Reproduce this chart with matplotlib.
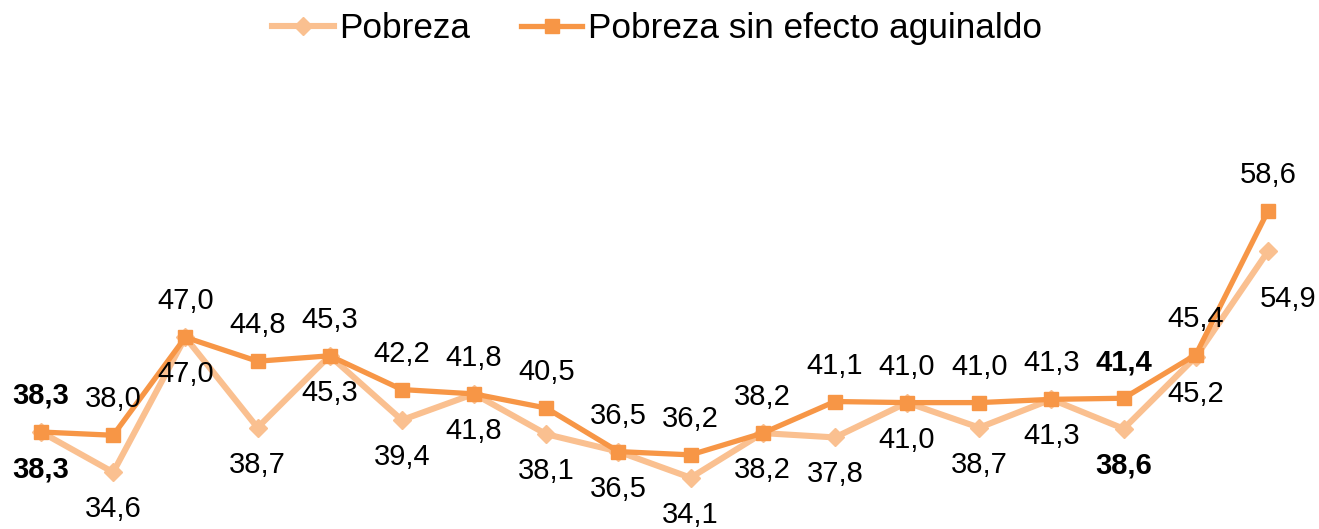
import matplotlib
matplotlib.use("Agg")
import matplotlib.pyplot as plt

plt.rcParams['font.family'] = ['Liberation Sans', 'DejaVu Sans']

pobreza = [38.3, 34.6, 47.0, 38.7, 45.3, 39.4, 41.8, 38.1, 36.5, 34.1,
           38.2, 37.8, 41.0, 38.7, 41.3, 38.6, 45.2, 54.9]
sin_aguinaldo = [38.3, 38.0, 47.0, 44.8, 45.3, 42.2, 41.8, 40.5, 36.5, 36.2,
                 38.2, 41.1, 41.0, 41.0, 41.3, 41.4, 45.4, 58.6]
bold_idx = [0, 15]
series_names = ["Pobreza", "Pobreza sin efecto aguinaldo"]

c_light = "#FAC090"
c_dark = "#F79646"

W, H, DPI = 1319, 529, 100
fig = plt.figure(figsize=(W / DPI, H / DPI), dpi=DPI)
ax = fig.add_axes([0, 0, 1, 1])
x = list(range(len(pobreza)))

ax.plot(x, pobreza, color=c_light, lw=4.4, marker="D", ms=9,
        mec=c_light, mfc=c_light, label=series_names[0], zorder=2)
ax.plot(x, sin_aguinaldo, color=c_dark, lw=3.8, marker="s", ms=10.5,
        mec=c_dark, mfc=c_dark, label=series_names[1], zorder=3)

# pixel -> points at 100 dpi
px = 72 / DPI
for i, v in enumerate(sin_aguinaldo):
    ax.annotate(f"{v:.1f}".replace(".", ","), (i, v), xytext=(0, 36 * px),
                textcoords="offset points", ha="center", va="center",
                fontsize=21, fontweight="bold" if i in bold_idx else "normal")
for i, v in enumerate(pobreza):
    dx, dy = (0, -37)
    if i == len(pobreza) - 1:
        dx, dy = (20, -48)
    ax.annotate(f"{v:.1f}".replace(".", ","), (i, v), xytext=(dx * px, dy * px),
                textcoords="offset points", ha="center", va="center",
                fontsize=21, fontweight="bold" if i in bold_idx else "normal")

# map data so that index 0 -> x=41px, 17 -> 1268px; 38.3 -> y=432px, 58.6 -> 211px
step = (1268 - 41) / 17
ax.set_xlim(-41 / step, 17 + (W - 1268) / step)
ppu = (432 - 211) / (58.6 - 38.3)
ax.set_ylim(38.3 - (H - 432) / ppu, 38.3 + 432 / ppu)
ax.axis("off")

leg = ax.legend(loc="upper center", bbox_to_anchor=(0.498, 1.004), ncol=2,
                frameon=False, fontsize=25.3, handlelength=1.75,
                handletextpad=0.15, columnspacing=1.45, borderaxespad=0.0)

fig.savefig("out.png", dpi=DPI)
